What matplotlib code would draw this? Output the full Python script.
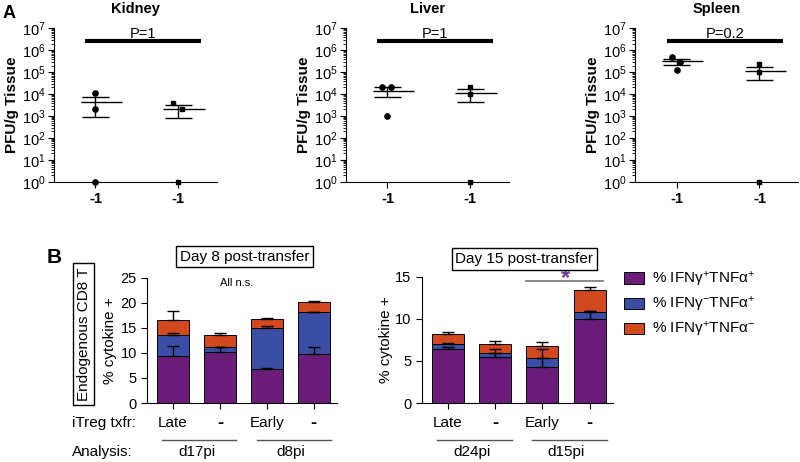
import numpy as np
import matplotlib.pyplot as plt
from matplotlib.patches import Patch
from matplotlib.ticker import LogLocator, LogFormatterSciNotation
from matplotlib.transforms import blended_transform_factory

plt.rcParams['font.family'] = ['Liberation Sans', 'DejaVu Sans']
plt.rcParams['mathtext.fontset'] = 'custom'
plt.rcParams['mathtext.rm'] = 'Liberation Sans'
plt.rcParams['mathtext.it'] = 'Liberation Sans:italic'
plt.rcParams['mathtext.bf'] = 'Liberation Sans:bold'

# ---- panel A: PFU/g tissue, 3 mice per group ----
organs = ['Kidney', 'Liver', 'Spleen']
group_labels = ['-1', '-1']
pvals = ['P=1', 'P=1', 'P=0.2']
kidney_circ = [1.1e4, 2e3, 1]
kidney_sq = [4e3, 2e3, 1]
liver_circ = [2e4, 2e4, 1e3]
liver_sq = [2.2e4, 1e4, 1]
spleen_circ = [5e5, 3e5, 1.3e5]
spleen_sq = [2.3e5, 1e5, 1]
# horizontal spread of the dots
kidney_jit = [[0, 0, 0], [-0.06, 0.04, 0]]
liver_jit = [[-0.06, 0.04, 0], [0, 0, 0]]
spleen_jit = [[-0.05, 0.04, 0], [0, 0, 0]]

# ---- panel B: % cytokine+ (stacked) ----
conds = ['Late', '-', 'Early', '-']
times8 = ['d17pi', 'd8pi']
times15 = ['d24pi', 'd15pi']
d8_dp = [9.4, 10.2, 6.8, 9.7]
d8_tnf = [4.2, 0.9, 8.1, 8.4]
d8_ifn = [3.0, 2.5, 1.8, 2.1]
d8_dp_err = [2.0, 0.9, 0.27, 1.45]
d8_tnf_err = [0.3, 0.1, 0.5, 0.1]
d8_ifn_err = [1.7, 0.3, 0.2, 0.15]
d15_dp = [6.45, 5.5, 4.3, 10.0]
d15_tnf = [0.55, 0.4, 1.0, 0.85]
d15_ifn = [1.2, 1.15, 1.5, 2.55]
d15_dp_err = [0.25, 0.4, 1.0, 0.9]
d15_tnf_err = [0.1, 0.55, 1.05, 0.1]
d15_ifn_err = [0.2, 0.32, 0.4, 0.3]
leg_labels = [r'% IFNγ$^{+}$TNFα$^{+}$', r'% IFNγ$^{-}$TNFα$^{+}$', r'% IFNγ$^{+}$TNFα$^{-}$']

purple = '#6a1d78'
blue = '#3b4ea6'
orange = '#d2491f'

fig = plt.figure(figsize=(8, 4.62), dpi=100)

a_lefts = [0.0675, 0.4325, 0.794]
a_data = [(kidney_circ, kidney_sq, kidney_jit),
          (liver_circ, liver_sq, liver_jit),
          (spleen_circ, spleen_sq, spleen_jit)]

for i in range(3):
    ax = fig.add_axes([a_lefts[i], 0.606, 0.204, 0.333])
    circ, sq, jit = a_data[i]
    for g, (vals, mk) in enumerate([(circ, 'o'), (sq, 's')]):
        vals = np.array(vals)
        m = vals.mean()
        sem = vals.std(ddof=1) / np.sqrt(len(vals))
        ax.plot(g + np.array(jit[g]), vals, mk, color='black', ms=3.8 if mk == 'o' else 3.5,
                clip_on=False, zorder=3)
        ax.hlines(m, g - 0.18, g + 0.32, color='black', lw=1)
        ax.vlines(g, m - sem, m + sem, color='black', lw=1)
        ax.hlines([m - sem, m + sem], g - 0.16, g + 0.16, color='black', lw=1)
    ax.set_yscale('log')
    ax.set_ylim(1, 1e7)
    ax.set_yticks([10.0 ** k for k in range(8)])
    ax.yaxis.set_major_formatter(LogFormatterSciNotation())
    ax.yaxis.set_minor_locator(LogLocator(base=10, subs=np.arange(2, 10), numticks=20))
    ax.set_xlim(-0.5, 1.47)
    ax.set_xticks([0, 1])
    ax.set_xticklabels(group_labels, fontweight='bold', fontsize=10.5)
    ax.plot([-0.12, 1.28], [2.7e6, 2.7e6], color='black', lw=3, solid_capstyle='butt')
    ax.text(0.58, 3.4e6, pvals[i], ha='center', va='baseline', fontsize=10.5)
    ax.set_title(organs[i], fontweight='bold', fontsize=10.5, pad=11)
    ax.set_ylabel('PFU/g Tissue', fontweight='bold', fontsize=11)
    ax.yaxis.set_label_coords(-0.215, 0.5)
    for s in ['top', 'right']:
        ax.spines[s].set_visible(False)
    ax.tick_params(axis='y', which='major', labelsize=10.5, length=4, pad=2)
    ax.tick_params(axis='y', which='minor', length=2)
    ax.tick_params(axis='x', length=4)

fig.text(0.003, 0.97, 'A', fontsize=13, fontweight='bold', va='center')

# ---- panel B ----
def stacked(ax, dp, tnf, ifn, dp_err, tnf_err, ifn_err):
    x = np.arange(len(dp))
    dp = np.array(dp)
    tnf = np.array(tnf)
    ifn = np.array(ifn)
    ax.bar(x, dp, 0.68, color=purple, edgecolor='black', lw=0.7)
    ax.bar(x, tnf, 0.68, bottom=dp, color=blue, edgecolor='black', lw=0.7)
    ax.bar(x, ifn, 0.68, bottom=dp + tnf, color=orange, edgecolor='black', lw=0.7)
    z = np.zeros(len(x))
    for tops, err in [(dp, dp_err), (dp + tnf, tnf_err), (dp + tnf + ifn, ifn_err)]:
        ax.errorbar(x, tops, yerr=[z, err], fmt='none', ecolor='black', elinewidth=1,
                    capsize=4.5, capthick=1, zorder=3)
    ax.set_xticks(x)
    ax.set_xticklabels([])
    ax.set_xlim(-0.55, 3.5)
    for s in ['top', 'right']:
        ax.spines[s].set_visible(False)
    ax.tick_params(axis='y', labelsize=10.5, length=4)
    ax.tick_params(axis='x', length=4)
    ax.set_ylabel('% cytokine +', fontsize=11)
    tr = blended_transform_factory(ax.transData, fig.transFigure)
    for k, c in enumerate(conds):
        if c == '-':
            ax.text(k, 0.0844, c, transform=tr, ha='center', va='center', fontsize=13,
                    fontweight='bold')
        else:
            ax.text(k, 0.0844, c, transform=tr, ha='center', va='center', fontsize=11)
    ax.plot([-0.24, 1.35], [0.0476, 0.0476], transform=tr, color='#555555', lw=1, clip_on=False)
    ax.plot([1.79, 3.36], [0.0476, 0.0476], transform=tr, color='#555555', lw=1, clip_on=False)
    return tr

ax1 = fig.add_axes([0.184, 0.1277, 0.2375, 0.2706])
tr1 = stacked(ax1, d8_dp, d8_tnf, d8_ifn, d8_dp_err, d8_tnf_err, d8_ifn_err)
ax1.set_ylim(0, 25)
ax1.set_yticks([0, 5, 10, 15, 20, 25])
ax1.yaxis.set_label_coords(-0.16, 0.5)
ax1.text(0.5, 0.0216, times8[0], transform=tr1, ha='center', va='center', fontsize=11)
ax1.text(2.5, 0.0216, times8[1], transform=tr1, ha='center', va='center', fontsize=11)

ax2 = fig.add_axes([0.5275, 0.1277, 0.239, 0.2738])
tr2 = stacked(ax2, d15_dp, d15_tnf, d15_ifn, d15_dp_err, d15_tnf_err, d15_ifn_err)
ax2.set_ylim(0, 15)
ax2.set_yticks([0, 5, 10, 15])
ax2.yaxis.set_label_coords(-0.15, 0.5)
ax2.text(0.5, 0.0216, times15[0], transform=tr2, ha='center', va='center', fontsize=11)
ax2.text(2.5, 0.0216, times15[1], transform=tr2, ha='center', va='center', fontsize=11)
ax2.plot([1.66, 3.28], [14.52, 14.52], color='#808080', lw=1.3, clip_on=False)
ax2.text(2.49, 14.75, '*', color='#6a3d9a', fontsize=17, ha='center', va='center', fontweight='bold')

fig.text(0.09, 0.0844, 'iTreg txfr:', fontsize=11, va='center')
fig.text(0.09, 0.0216, 'Analysis:', fontsize=11, va='center')
fig.text(0.0588, 0.4416, 'B', fontsize=15, fontweight='bold', va='center')
fig.text(0.296, 0.3874, 'All n.s.', fontsize=8, ha='center', va='center')
box = dict(boxstyle='square,pad=0.25', fc='white', ec='black', lw=1)
fig.text(0.3056, 0.4448, 'Day 8 post-transfer', fontsize=11, ha='center', va='center', bbox=box)
fig.text(0.6556, 0.4394, 'Day 15 post-transfer', fontsize=11, ha='center', va='center', bbox=box)
fig.text(0.1044, 0.277, 'Endogenous CD8 T', fontsize=11, ha='center', va='center',
         rotation=90, bbox=box)

handles = [Patch(fc=c, ec='black', lw=0.7) for c in [purple, blue, orange]]
fig.legend(handles, leg_labels, loc='upper left', bbox_to_anchor=(0.78, 0.4156),
           frameon=False, fontsize=11, handlelength=1.3, handleheight=0.8,
           handletextpad=0.5, labelspacing=0.4, borderpad=0, borderaxespad=0)

fig.savefig('out.png', dpi=100)
